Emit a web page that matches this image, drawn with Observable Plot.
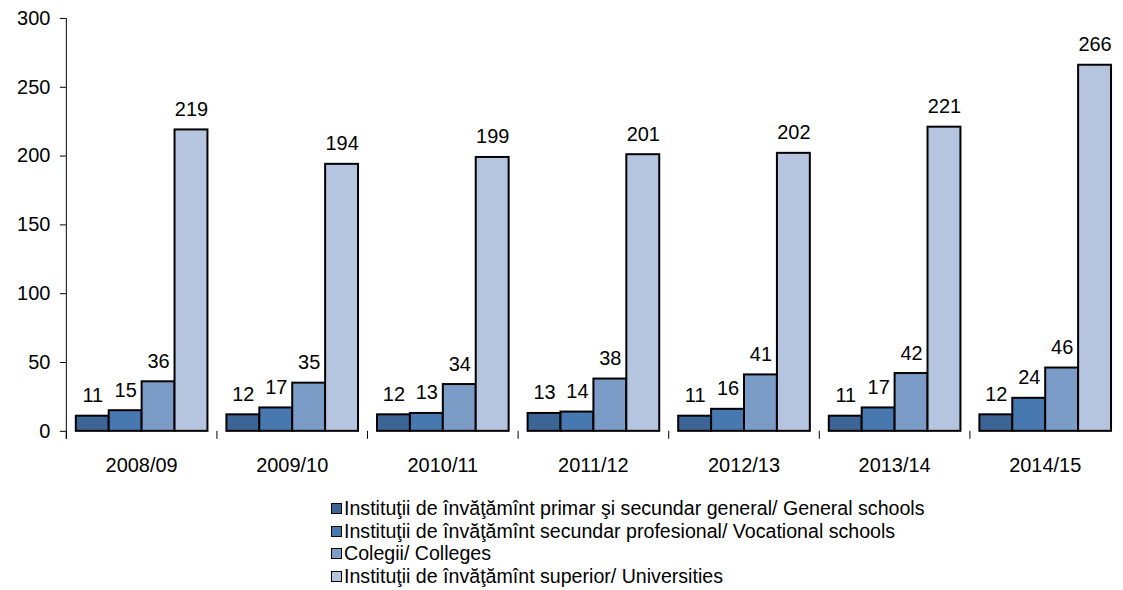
<!DOCTYPE html>
<html>
<head>
<meta charset="utf-8">
<script src="https://cdn.jsdelivr.net/npm/d3@7"></script>
<script src="https://cdn.jsdelivr.net/npm/@observablehq/plot@0.6"></script>
<style>
  html, body { margin: 0; padding: 0; background: #fff; overflow: hidden; }
  body { font-family: "Liberation Sans", Arial, sans-serif; width: 1123px; }
  #legend { position: absolute; left: 331px; top: 497px; font-size: 19.6px; color: #000; }
  .item { display: flex; align-items: center; height: 22.7px; white-space: nowrap; }
  .sw { width: 9px; height: 9px; border: 1.5px solid #000; margin-right: 2px; flex: none; }
</style>
</head>
<body>
<div id="chart"></div>
<div id="legend"></div>
<script>
const years = ["2008/09", "2009/10", "2010/11", "2011/12", "2012/13", "2013/14", "2014/15"];
const seriesNames = [
  "Instituţii de învăţămînt primar şi secundar general/ General schools",
  "Instituţii de învăţămînt secundar profesional/ Vocational schools",
  "Colegii/ Colleges",
  "Instituţii de învăţămînt superior/ Universities"
];
const generalSchools = [11, 12, 12, 13, 11, 11, 12];
const vocationalSchools = [15, 17, 13, 14, 16, 17, 24];
const colleges = [36, 35, 34, 38, 41, 42, 46];
const universities = [219, 194, 199, 201, 202, 221, 266];
const colors = ["#3C6494", "#4778B0", "#7C9CC8", "#B5C4DF"];
const yTicks = [0, 50, 100, 150, 200, 250, 300];

const seriesValues = [generalSchools, vocationalSchools, colleges, universities];
const data = [];
years.forEach((yr, i) => {
  seriesNames.forEach((s, j) => {
    data.push({year: yr, series: s, value: seriesValues[j][i]});
  });
});

const marginTop = 18, marginBottom = 58, height = 490;
const innerH = height - marginTop - marginBottom;

const chart = Plot.plot({
  width: 1126,
  height,
  marginTop,
  marginBottom,
  marginLeft: 63,
  marginRight: 0,
  style: {fontFamily: "'Liberation Sans', Arial, sans-serif", fontSize: "20px", color: "#000", background: "#fff"},
  fx: {domain: years, padding: 0},
  x: {domain: seriesNames, paddingInner: 0, paddingOuter: 0.25, axis: null},
  y: {domain: [0, 300]},
  color: {domain: seriesNames, range: colors},
  marks: [
    Plot.frame({anchor: "left", facetAnchor: "left", insetBottom: -7, stroke: "#000", strokeWidth: 1}),
    Plot.frame({anchor: "left", insetTop: innerH, insetBottom: -7, stroke: "#000", strokeWidth: 1}),
    Plot.barY(data, {fx: "year", x: "series", y: "value", fill: "series", stroke: "#000", strokeWidth: 2}),
    Plot.text(data, {fx: "year", x: "series", y: "value", text: d => String(d.value), lineAnchor: "bottom", dy: -14, fontSize: 20, fill: "#000"}),
    Plot.axisY({ticks: yTicks, tickSize: 6, tickPadding: 10, fontSize: 20, label: null, stroke: "#000"}),
    Plot.axisFx({anchor: "bottom", tickSize: 0, tickPadding: 27, fontSize: 20, label: null})
  ]
});
document.getElementById("chart").appendChild(chart);

const legend = document.getElementById("legend");
seriesNames.forEach((s, j) => {
  const row = document.createElement("div");
  row.className = "item";
  const sw = document.createElement("span");
  sw.className = "sw";
  sw.style.background = colors[j];
  const t = document.createElement("span");
  t.textContent = s;
  row.appendChild(sw);
  row.appendChild(t);
  legend.appendChild(row);
});
</script>
</body>
</html>
